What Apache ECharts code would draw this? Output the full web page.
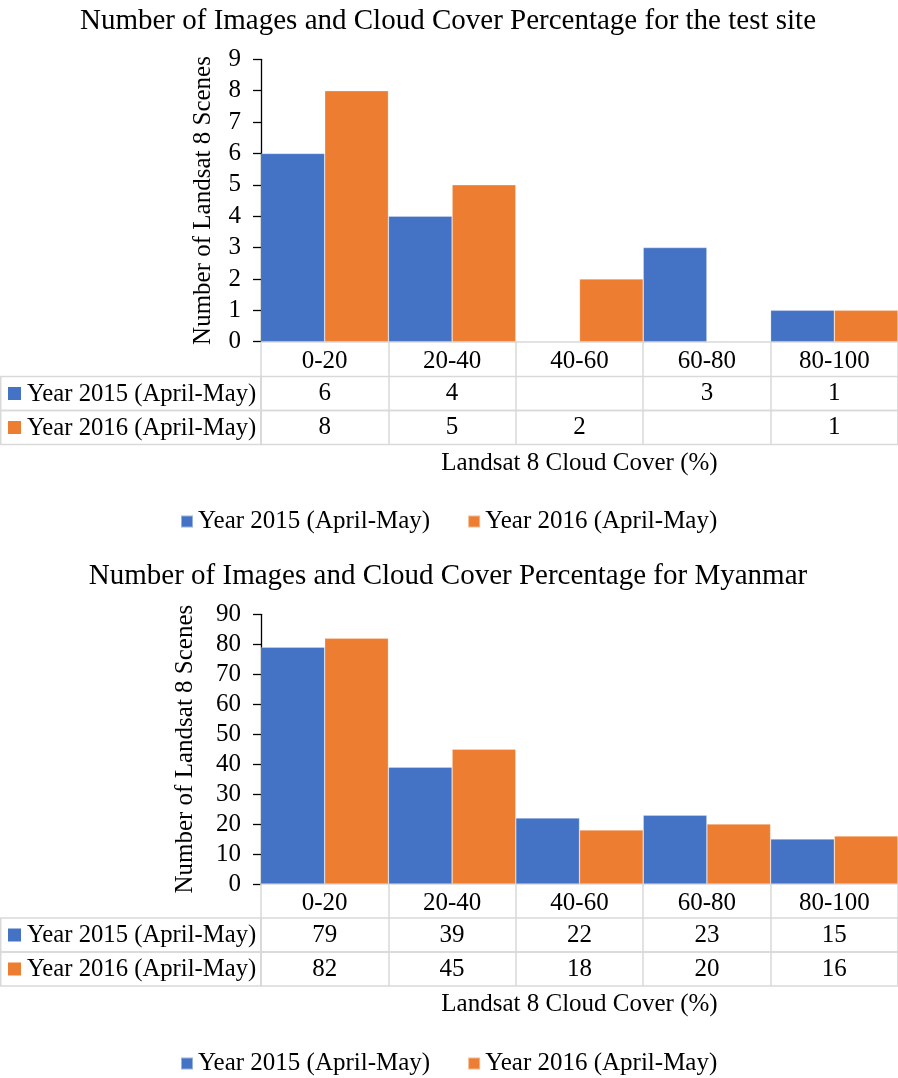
<!DOCTYPE html>
<html>
<head>
<meta charset="utf-8">
<script src="https://cdn.jsdelivr.net/npm/echarts@6/dist/echarts.min.js"></script>
<style>
html,body{margin:0;padding:0;background:#fff;}
#c{width:898px;height:1078px;}
</style>
</head>
<body>
<div id="c"></div>
<script>
// ---- data ----
var categories = ['0-20', '20-40', '40-60', '60-80', '80-100'];
var seriesNames = ['Year 2015 (April-May)', 'Year 2016 (April-May)'];
var site2015 = [6, 4, null, 3, 1];
var site2016 = [8, 5, 2, null, 1];
var myanmar2015 = [79, 39, 22, 23, 15];
var myanmar2016 = [82, 45, 18, 20, 16];
var titles = ['Number of Images and Cloud Cover Percentage for the test site',
              'Number of Images and Cloud Cover Percentage for Myanmar'];
var yAxisTitle = 'Number of Landsat 8 Scenes';
var xAxisTitle = 'Landsat 8 Cloud Cover (%)';
var siteAxis = {min: 0, max: 9, interval: 1};
var myanmarAxis = {min: 0, max: 90, interval: 10};

// ---- styles / layout ----
var FONT = 'Liberation Serif';
var FS = 25;
var BLUE = '#4472C4', ORANGE = '#ED7D31', GRIDC = '#d9d9d9';
var colors = [BLUE, ORANGE];
var PLOT_LEFT = 261;
var ROW_H = 34;

var charts = [
  {title: titles[0], titleTop: 2, plotTop: 59.3, plotH: 282.4, headerH: 34.8,
   vals: [site2015, site2016], axis: siteAxis, nameGap: 45, legendTop: 509},
  {title: titles[1], titleTop: 557, plotTop: 614.3, plotH: 269.7, headerH: 34,
   vals: [myanmar2015, myanmar2016], axis: myanmarAxis, nameGap: 63, legendTop: 1051}
];

var option = {
  animation: false,
  backgroundColor: '#fff',
  textStyle: {fontFamily: FONT, color: '#000'},
  title: [], grid: [], xAxis: [], yAxis: [], series: [], legend: [], graphic: []
};

charts.forEach(function (ch, ci) {
  option.title.push({
    text: ch.title, left: 443, top: ch.titleTop, textAlign: 'center',
    textStyle: {fontFamily: FONT, fontSize: 29, fontWeight: 'normal', color: '#000'}
  });
  // plot grid
  var gPlot = option.grid.length;
  option.grid.push({left: PLOT_LEFT, right: 0, top: ch.plotTop, height: ch.plotH, containLabel: false});
  option.xAxis.push({
    type: 'category', gridIndex: gPlot, data: categories,
    axisLine: {lineStyle: {color: GRIDC, width: 1.5}},
    axisTick: {show: true, length: ch.headerH, lineStyle: {color: GRIDC, width: 1.5}},
    axisLabel: {fontFamily: FONT, fontSize: FS, color: '#000', margin: 7},
    splitLine: {show: false}
  });
  option.yAxis.push({
    type: 'value', gridIndex: gPlot, min: ch.axis.min, max: ch.axis.max, interval: ch.axis.interval,
    axisLine: {show: true, lineStyle: {color: '#000', width: 1.3}},
    axisTick: {show: true, length: 8, lineStyle: {color: '#000', width: 1.3}},
    axisLabel: {fontFamily: FONT, fontSize: FS, color: '#000', margin: 20},
    splitLine: {show: false},
    name: yAxisTitle, nameLocation: 'middle', nameRotate: 90, nameGap: ch.nameGap,
    nameTextStyle: {fontFamily: FONT, fontSize: FS, color: '#000'}
  });
  ch.vals.forEach(function (v, si) {
    option.series.push({
      type: 'bar', name: seriesNames[si], xAxisIndex: gPlot, yAxisIndex: gPlot,
      data: v, barGap: '0%', barCategoryGap: '0%',
      itemStyle: {color: colors[si], borderColor: 'rgba(255,255,255,0.45)', borderWidth: 0.6}
    });
  });
  // table rows
  var tableTop = ch.plotTop + ch.plotH + ch.headerH;
  ch.vals.forEach(function (v, si) {
    var gi = option.grid.length;
    var top = tableTop + si * ROW_H;
    option.grid.push({left: PLOT_LEFT, right: 0, top: top, height: ROW_H, show: true,
      borderColor: GRIDC, borderWidth: 1.5, backgroundColor: 'transparent'});
    var xa = {
      type: 'category', gridIndex: gi, data: categories,
      axisLine: {show: false}, axisTick: {show: false}, axisLabel: {show: false},
      splitLine: {show: true, interval: 0, lineStyle: {color: GRIDC, width: 1.5}}
    };
    if (si === ch.vals.length - 1) {
      xa.name = xAxisTitle; xa.nameLocation = 'middle'; xa.nameGap = 6;
      xa.nameTextStyle = {fontFamily: FONT, fontSize: FS, color: '#000', verticalAlign: 'top'};
    }
    option.xAxis.push(xa);
    option.yAxis.push({type: 'value', gridIndex: gi, min: 0, max: 1, show: false});
    option.series.push({
      type: 'scatter', xAxisIndex: gi, yAxisIndex: gi, symbolSize: 0, silent: true,
      itemStyle: {opacity: 1},
      data: v.map(function (val, i) { return val == null ? null : [categories[i], 0.5]; }),
      label: {show: true, position: 'inside', fontFamily: FONT, fontSize: FS, color: '#000', opacity: 1,
        formatter: function (p) { var x = v[p.dataIndex]; return x == null ? '' : String(x); }}
    });
    // left label cell
    option.graphic.push({
      type: 'group', x: 0, y: top, silent: true,
      children: [
        {type: 'rect', shape: {x: 0.75, y: 0, width: PLOT_LEFT - 0.75, height: ROW_H},
         style: {fill: 'none', stroke: GRIDC, lineWidth: 1.5}},
        {type: 'rect', shape: {x: 8, y: ROW_H / 2 - 6.5, width: 13, height: 13}, style: {fill: colors[si]}},
        {type: 'text', x: 27, y: ROW_H / 2 + 1,
         style: {text: seriesNames[si], font: '24.7px "' + FONT + '"', fill: '#000', verticalAlign: 'middle', textVerticalAlign: 'middle'}}
      ]
    });
  });
  option.legend.push({
    data: seriesNames, left: 180, top: ch.legendTop, padding: 0, icon: 'rect', itemWidth: 12, itemHeight: 12,
    itemGap: 37, selectedMode: false,
    textStyle: {fontFamily: FONT, fontSize: FS, color: '#000'}
  });
});

var chart = echarts.init(document.getElementById('c'), null, {renderer: 'canvas'});
chart.setOption(option);
</script>
</body>
</html>
